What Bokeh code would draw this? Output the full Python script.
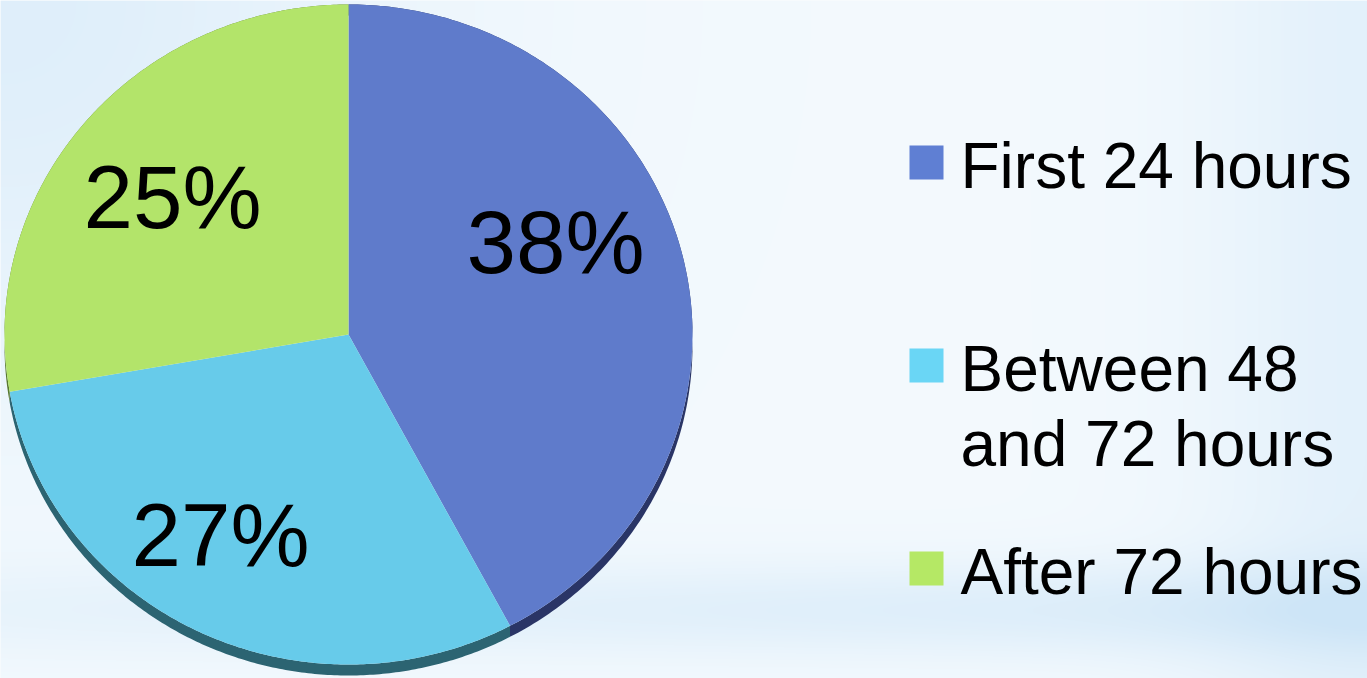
import numpy as np
from bokeh.plotting import figure
from bokeh.models import Range1d
from bokeh.core.properties import value
from bokeh.embed import file_html
from bokeh.resources import INLINE

# ---- data ----
categories = ["First 24 hours", "Between 48\nand 72 hours", "After 72 hours"]
values = [38, 27, 25]
labels = ["38%", "27%", "25%"]
face_colors = ["#5f7bcb", "#67cbea", "#b3e46a"]
rim_colors = ["#2a3566", "#2c6472", "#5a7a30"]
legend_colors = ["#5f7fd3", "#6ad6f5", "#b5e865"]

# ---- layout (pixels) ----
W, H = 1367, 678
CX, CY = 348, 334          # pie centre (pixel, from top)
RX, RY = 344, 330          # ellipse radii
DEPTH = 11                 # 3-D rim thickness
label_pos = [(555, 275), (220, 568), (172, 230)]   # (centre x, baseline y) pixels
LEG_X, LEG_TOP0, LEG_STEP, LEG_SIZE = 909, 145, 203, 34
FONT = "Liberation Sans"
LEG_FS = 64
LAB_FS = 89
BASE_FIX = 0.375           # renderer baseline correction (fraction of font size)

p = figure(width=W, height=H, output_backend="svg", toolbar_location=None,
           x_range=Range1d(0, W), y_range=Range1d(0, H), min_border=0)
p.axis.visible = False
p.grid.visible = False
p.outline_line_color = None
p.background_fill_color = "#f4f9fe"
p.border_fill_color = "#f4f9fe"

# ---- background gradient (full resolution) ----
gh, gw = H, W
yy, xx = np.mgrid[0:gh, 0:gw]
u = xx / (gw - 1)
v = 1.0 - yy / (gh - 1)   # v = 0 at top of the picture
t = (0.15
     + 0.45 * np.exp(-(u ** 2 / 0.08 + v ** 2 / 0.3))
     + 0.55 * np.exp(-((v - 0.9) / 0.07) ** 2) * (0.4 + 0.6 * u)
     + 0.35 * np.exp(-((1 - u) / 0.12) ** 2))
t = np.clip(t, 0, 1)
white = np.array([250, 253, 255])
blue = np.array([205, 229, 247])
rgb = white[None, None, :] * (1 - t[..., None]) + blue[None, None, :] * t[..., None]
img = np.empty((gh, gw), dtype=np.uint32)
view = img.view(dtype=np.uint8).reshape((gh, gw, 4))
view[..., 0] = rgb[..., 0]
view[..., 1] = rgb[..., 1]
view[..., 2] = rgb[..., 2]
view[..., 3] = 255
p.image_rgba(image=[img], x=0, y=0, dw=W, dh=H)

# ---- pie geometry from values ----
vals = np.array(values, dtype=float)
frac = vals / vals.sum()
ends = np.cumsum(frac) * 2 * np.pi
starts = ends - frac * 2 * np.pi


def pt(theta, drop=0.0):
    x = CX + RX * np.sin(theta)
    y = H - (CY - RY * np.cos(theta)) - drop
    return x, y


rim_xs, rim_ys, face_xs, face_ys = [], [], [], []
for a0, a1 in zip(starts, ends):
    th = np.linspace(a0, a1, 200)
    x, y = pt(th)
    xd, yd = pt(th[::-1], DEPTH)
    rim_xs.append(list(np.concatenate([x, xd])))
    rim_ys.append(list(np.concatenate([y, yd])))
    face_xs.append([CX] + list(x))
    face_ys.append([H - CY] + list(y))

p.patches(xs=rim_xs, ys=rim_ys, fill_color=rim_colors, line_color=None)
p.patches(xs=face_xs, ys=face_ys, fill_color=face_colors, line_color=None)

# ---- percentage labels ----
p.text(x=[lp[0] for lp in label_pos],
       y=[H - lp[1] + BASE_FIX * LAB_FS for lp in label_pos], text=labels,
       text_font=value(FONT), text_font_size=f"{LAB_FS}px", text_color="black",
       text_align="center", text_baseline="alphabetic")

# ---- legend ----
sq_x, sq_y, tx, ty, tt = [], [], [], [], []
for i, cat in enumerate(categories):
    top = LEG_TOP0 + i * LEG_STEP
    sq_x.append(LEG_X + LEG_SIZE / 2)
    sq_y.append(H - (top + LEG_SIZE / 2))
    for j, line in enumerate(cat.split("\n")):
        tx.append(960)
        ty.append(H - (top + 44 + j * 75) + BASE_FIX * LEG_FS)
        tt.append(line)
p.rect(x=sq_x, y=sq_y, width=LEG_SIZE, height=LEG_SIZE, fill_color=legend_colors, line_color=None)
p.text(x=tx, y=ty, text=tt, text_font=value(FONT), text_font_size=f"{LEG_FS}px", text_color="black",
       text_align="left", text_baseline="alphabetic")

open("out.html", "w").write(file_html(p, INLINE))
